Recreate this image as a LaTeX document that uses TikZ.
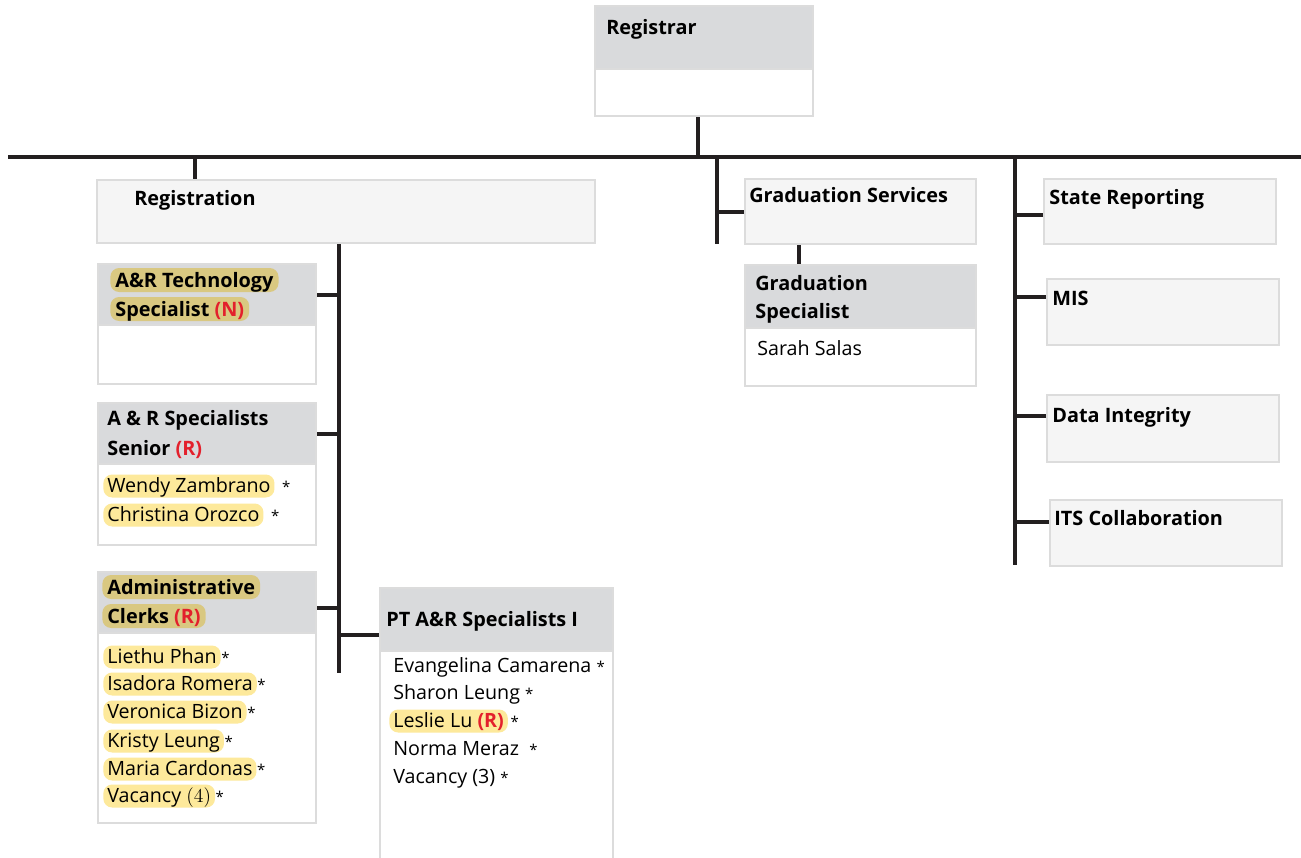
\documentclass[tikz,border=0pt]{standalone}
\usepackage{fontspec}
\setmainfont{Open Sans}
\newfontfamily\lmfont{Latin Modern Roman}
\usetikzlibrary{positioning}
\definecolor{hdrgray}{HTML}{D9DADC}
\definecolor{unitgray}{HTML}{F5F5F5}
\definecolor{boxline}{HTML}{DCDCDC}
\definecolor{linkcol}{HTML}{231F20}
\definecolor{hlyellow}{HTML}{FDE99B}
\definecolor{hlkhaki}{HTML}{D9C881}
\definecolor{flagred}{HTML}{E3202C}
\newcommand\starmk{{\fontsize{8.5}{9}\selectfont *}}
\newcommand\flagR[1]{\textcolor{flagred}{\textbf{(#1)}}}
\begin{document}
\begin{tikzpicture}
		[x=0.02cm,y=-0.02cm,
		cardbox/.style={draw=boxline,line width=1.3pt,fill=white,anchor=north west,inner sep=0pt},
		headbox/.style={cardbox,fill=hdrgray},
		unitbox/.style={cardbox,fill=unitgray},
		headtxt/.style={anchor=base west,inner sep=0pt,font=\bfseries\fontsize{11.3}{13}\selectfont},
		headhl/.style={headtxt,fill=hlkhaki,rounded corners=5pt,inner xsep=0.1cm,text height=0.38cm,text depth=0.1cm},
		person/.style={anchor=base west,inner sep=0pt,font=\fontsize{11.2}{13}\selectfont},
		personhl/.style={person,fill=hlyellow,rounded corners=5pt,inner xsep=0.08cm,text height=0.35cm,text depth=0.11cm},
		astmk/.style={anchor=base west,inner sep=0pt},
		link/.style={draw=linkcol,line width=2.3pt}]
		\path[use as bounding box,fill=white] (0,0) rectangle (1301,858);
		% registrar and main bus
		\node[cardbox,minimum width=4.36cm,minimum height=2.2cm] (regBox) at (594,5) {};
		\node[headbox,minimum width=4.36cm,minimum height=1.26cm] (regHead) at (regBox.north west) {};
		\node[headtxt] (regT) at (606,35) {Registrar};
		\coordinate (busL) at (8,157);
		\coordinate (busR) at (1301,157);
		\draw[link] (busL) -- (busR);
		\draw[link] ([xshift=-0.12cm]regBox.south) -- ([xshift=-0.12cm]regBox.south |- busL);
		% registration
		\node[unitbox,minimum width=9.96cm,minimum height=1.26cm] (regnBox) at (96,179) {};
		\node[headtxt] (regnT) at (134,206) {Registration};
		\coordinate (regnTop) at (195,157);
		\coordinate (regnBot) at (339,673);
		\draw[link] (regnTop) -- (regnTop |- regnBox.north);
		\draw[link] (regnBot |- regnBox.south) -- (regnBot);
		% A&R technology specialist
		\node[cardbox,minimum width=4.36cm,minimum height=2.4cm] (techBox) at (97,263) {};
		\node[headbox,minimum width=4.36cm,minimum height=1.22cm] (techHead) at (techBox.north west) {};
		\node[headhl] (techT1) at (110,287) {A\&R Technology};
		\node[headhl] (techT2) at (110,316) {Specialist \flagR{N}};
		\draw[link] (techHead.east) -- (techHead.east -| regnBot);
		% A&R specialists senior
		\node[cardbox,minimum width=4.36cm,minimum height=2.84cm] (senBox) at (97,402) {};
		\node[headbox,minimum width=4.36cm,minimum height=1.22cm] (senHead) at (senBox.north west) {};
		\node[headtxt] (senT1) at (107,425) {A \& R Specialists};
		\node[headtxt] (senT2) at (107,455) {Senior \flagR{R}};
		\node[personhl] (wendy) at (103,492) {Wendy Zambrano};
		\node[astmk] (wendyS) at ([xshift=0.14cm]wendy.base east) {\starmk};
		\node[personhl] (christina) at (103,521) {Christina Orozco};
		\node[astmk] (christinaS) at ([xshift=0.14cm]christina.base east) {\starmk};
		\draw[link] (senHead.east) -- (senHead.east -| regnBot);
		% administrative clerks
		\node[cardbox,minimum width=4.36cm,minimum height=5.02cm] (clkBox) at (97,571) {};
		\node[headbox,minimum width=4.36cm,minimum height=1.22cm] (clkHead) at (clkBox.north west) {};
		\node[headhl] (clkT1) at (102,594) {Administrative};
		\node[headhl] (clkT2) at (102,623) {Clerks \flagR{R}};
		\node[personhl] (liethu) at (103,663) {Liethu Phan};
		\node[astmk] (liethuS) at (liethu.base east) {\starmk};
		\node[personhl] (isadora) at (103,690) {Isadora Romera};
		\node[astmk] (isadoraS) at (isadora.base east) {\starmk};
		\node[personhl] (veronica) at (103,718) {Veronica Bizon};
		\node[astmk] (veronicaS) at (veronica.base east) {\starmk};
		\node[personhl] (kristy) at (103,747) {Kristy Leung};
		\node[astmk] (kristyS) at (kristy.base east) {\starmk};
		\node[personhl] (maria) at (103,775) {Maria Cardonas};
		\node[astmk] (mariaS) at (maria.base east) {\starmk};
		\node[personhl] (vacClk) at (103,802) {Vacancy {\lmfont(4)}};
		\node[astmk] (vacClkS) at (vacClk.base east) {\starmk};
		\draw[link] ([yshift=-0.1cm]clkHead.east) -- ([yshift=-0.1cm]clkHead.east -| regnBot);
		% PT A&R specialists I
		\node[cardbox,minimum width=4.66cm,minimum height=5.5cm] (ptBox) at (379,587) {};
		\node[headbox,minimum width=4.66cm,minimum height=1.26cm] (ptHead) at (ptBox.north west) {};
		\node[headtxt] (ptT) at (386,626) {PT A\&R Specialists I};
		\node[person] (evangelina) at (393,672) {Evangelina Camarena \starmk};
		\node[person] (sharon) at (393,699) {Sharon Leung \starmk};
		\node[personhl] (leslie) at (389,727) {Leslie Lu \flagR{R}};
		\node[astmk] (leslieS) at ([xshift=0.04cm]leslie.base east) {\starmk};
		\node[person] (norma) at (393,755) {Norma Meraz \ \starmk};
		\node[person] (vacPt) at (393,783) {Vacancy (3) \starmk};
		\draw[link] ([yshift=-0.31cm]ptHead.west) -- ([yshift=-0.31cm]ptHead.west -| regnBot);
		% graduation
		\node[unitbox,minimum width=4.62cm,minimum height=1.3cm] (gsvcBox) at (744,178) {};
		\node[headtxt] (gsvcT) at (749,203) {Graduation Services};
		\coordinate (gradTop) at (717,157);
		\coordinate (gradBot) at (717,244);
		\draw[link] (gradTop) -- (gradBot);
		\draw[link] (gsvcBox.west) -- (gsvcBox.west -| gradTop);
		\node[cardbox,minimum width=4.62cm,minimum height=2.42cm] (gspecBox) at (744,264) {};
		\node[headbox,minimum width=4.62cm,minimum height=1.26cm] (gspecHead) at (gspecBox.north west) {};
		\node[headtxt] (gspecT1) at (755,290) {Graduation};
		\node[headtxt] (gspecT2) at (755,318) {Specialist};
		\node[person] (sarah) at (757,355) {Sarah Salas};
		\draw[link] ([xshift=1.1cm]gsvcBox.south west) -- ([xshift=1.1cm]gspecBox.north west);
		% reporting column
		\coordinate (rptTop) at (1015,157);
		\coordinate (rptBot) at (1015,565);
		\draw[link] (rptTop) -- (rptBot);
		\node[unitbox,minimum width=4.64cm,minimum height=1.3cm] (stateBox) at (1043,178) {};
		\node[headtxt] (stateT) at (1049,205) {State Reporting};
		\node[unitbox,minimum width=4.64cm,minimum height=1.32cm] (misBox) at (1046,278) {};
		\node[headtxt] (misT) at (1052,305) {MIS};
		\node[unitbox,minimum width=4.64cm,minimum height=1.34cm] (dataBox) at (1046,394) {};
		\node[headtxt] (dataT) at (1052,422) {Data Integrity};
		\node[unitbox,minimum width=4.64cm,minimum height=1.32cm] (itsBox) at (1049,499) {};
		\node[headtxt] (itsT) at (1054,525) {ITS Collaboration};
		\draw[link] ([yshift=-0.07cm]stateBox.west) -- ([yshift=-0.07cm]stateBox.west -| rptTop);
		\draw[link] ([yshift=0.3cm]misBox.west) -- ([yshift=0.3cm]misBox.west -| rptTop);
		\draw[link] ([yshift=0.25cm]dataBox.west) -- ([yshift=0.25cm]dataBox.west -| rptTop);
		\draw[link] ([yshift=0.22cm]itsBox.west) -- ([yshift=0.22cm]itsBox.west -| rptTop);
	\end{tikzpicture}
\end{document}
